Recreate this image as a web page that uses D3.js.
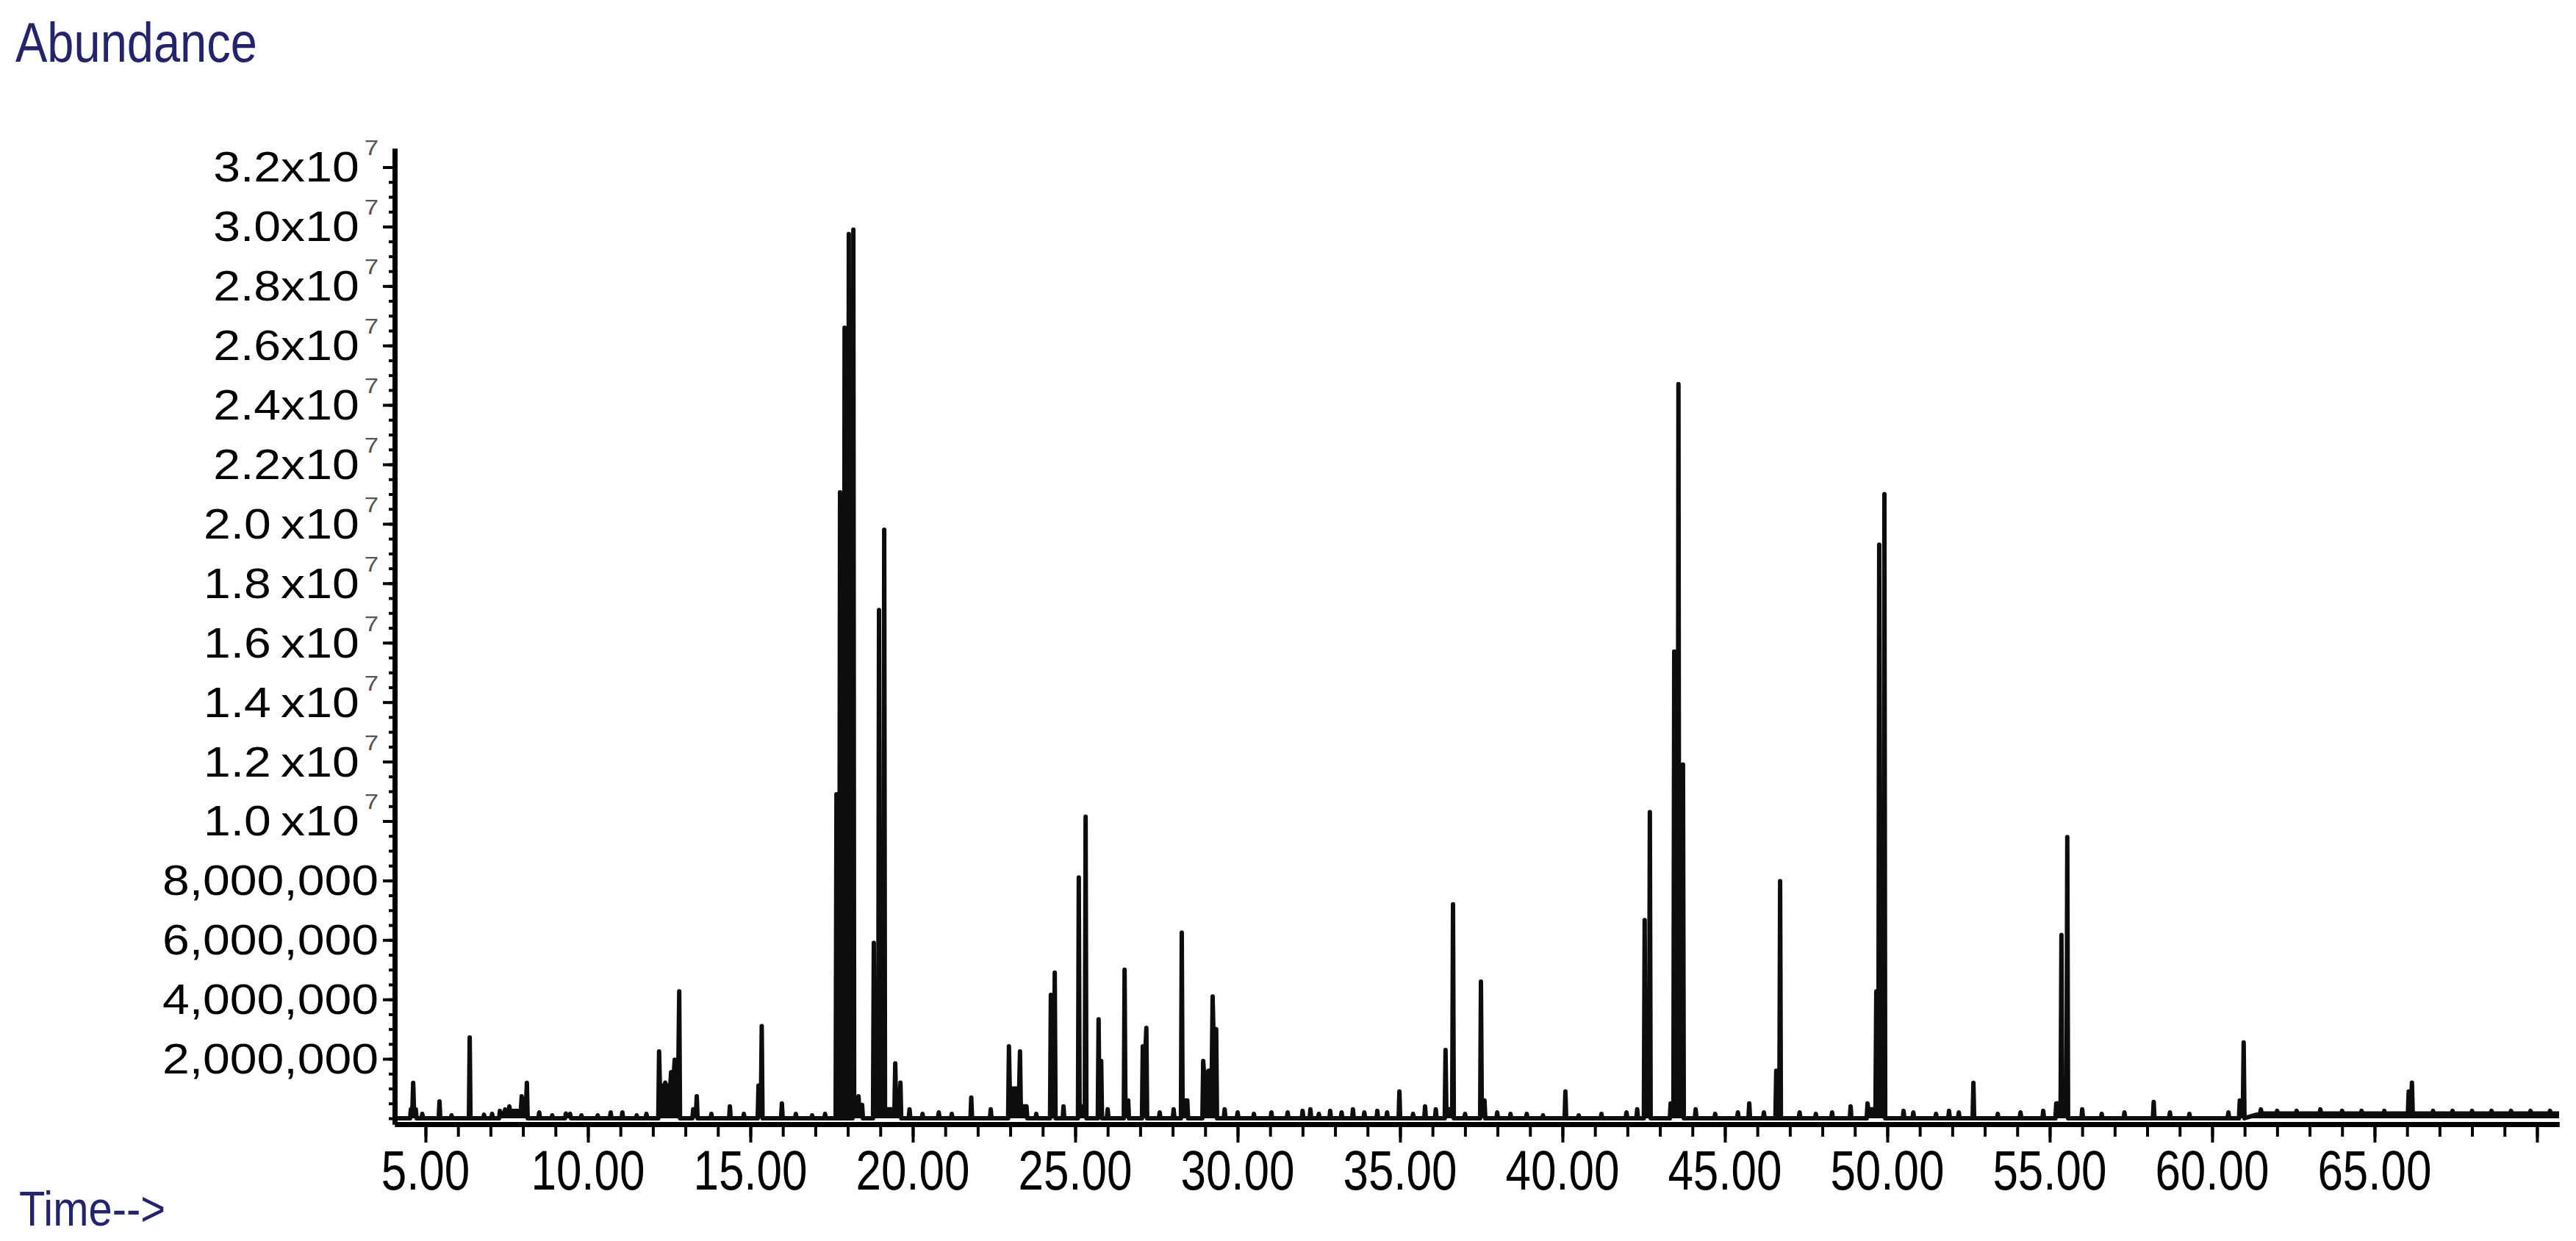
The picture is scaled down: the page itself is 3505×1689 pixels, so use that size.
<!DOCTYPE html>
<html><head><meta charset="utf-8">
<script src="https://cdn.jsdelivr.net/npm/d3@7/dist/d3.min.js"></script>
<style>html,body{margin:0;padding:0;background:#fff;} svg{display:block;}</style>
</head><body>
<svg id="chart" width="3505" height="1689"></svg>
<script>
// ---------- data ----------
const xTickValues = [5, 10, 15, 20, 25, 30, 35, 40, 45, 50, 55, 60, 65];
const xTickLabels = ["5.00","10.00","15.00","20.00","25.00","30.00","35.00","40.00","45.00","50.00","55.00","60.00","65.00"];
const xMajorTicks = [5, 10, 15, 20, 25, 30, 35, 40, 45, 50, 55, 60, 65, 70];

const yTickValues = [2e6, 4e6, 6e6, 8e6, 10e6, 12e6, 14e6, 16e6, 18e6, 20e6, 22e6, 24e6, 26e6, 28e6, 30e6, 32e6];
const yTickLabels = ["2,000,000","4,000,000","6,000,000","8,000,000",
  "1.0\u2009x10","1.2\u2009x10","1.4\u2009x10","1.6\u2009x10","1.8\u2009x10","2.0\u2009x10",
  "2.2x10","2.4x10","2.6x10","2.8x10","3.0x10","3.2x10"];
const yTickExp = ["","","","","7","7","7","7","7","7","7","7","7","7","7","7"];

// retention time (min), apex abundance (x1e6), level the trace stays at after the peak (x1e6)
const peakRT = [4.55,4.62,4.70,4.9,5.43,5.8,6.36,6.8,7.05,7.29,7.45,7.58,7.96,8.12,8.5,8.9,9.32,9.45,9.8,10.3,10.7,11.06,11.5,11.8,
  12.19,12.38,12.56,12.67,12.81,13.24,13.35,13.8,14.37,14.8,15.25,15.35,15.97,16.4,16.9,17.3,
  17.65,17.76,17.9,18.03,18.17,18.33,18.44,18.8,18.96,19.12,19.46,19.62,19.9,20.3,20.8,21.2,21.8,22.4,
  22.96,23.3,23.5,23.8,24.25,24.37,24.64,25.11,25.32,25.72,25.8,26.0,26.52,26.63,27.08,27.19,27.6,28.03,
  28.28,28.45,28.94,29.1,29.23,29.34,29.6,30.0,30.5,31.04,31.54,32.0,32.24,32.5,32.85,33.2,33.55,33.9,34.3,34.6,
  34.98,35.4,35.77,36.1,36.4,36.63,37.0,37.49,37.6,37.99,38.4,38.9,39.4,40.09,40.5,41.2,41.97,42.3,
  42.53,42.69,43.33,43.44,43.57,43.71,44.1,44.7,45.4,45.75,46.2,46.58,46.7,47.3,47.8,48.3,48.87,49.39,
  49.66,49.75,49.91,50.5,50.8,51.5,51.9,52.2,52.65,53.4,54.1,54.8,55.2,55.36,55.54,56.0,56.6,57.3,58.2,58.7,59.3,
  60.5,60.85,60.97,61.5,62.0,62.6,63.33,64.0,64.6,65.3,66.05,66.15,66.8,67.4,68.0,68.6,69.2,69.8,70.4];
const peakTop = [0.3,1.19,0.3,0.15,0.57,0.1,2.72,0.12,0.15,0.25,0.3,0.4,0.74,1.19,0.2,0.1,0.16,0.15,0.1,0.1,0.2,0.2,0.1,0.15,
  2.25,1.2,1.55,1.97,4.27,0.3,0.74,0.15,0.4,0.15,1.1,3.1,0.5,0.15,0.1,0.15,
  10.9,21.06,26.6,29.75,29.9,0.74,0.45,5.9,17.1,19.8,1.85,1.2,0.3,0.15,0.2,0.15,0.7,0.3,
  2.42,2.25,0.4,0.15,4.15,4.9,0.4,8.1,10.15,3.33,1.93,0.3,5.0,0.6,2.42,3.04,0.2,0.3,
  6.25,0.6,1.93,1.6,4.1,3.0,0.3,0.2,0.15,0.2,0.2,0.25,0.3,0.15,0.25,0.2,0.3,0.2,0.25,0.2,
  0.9,0.15,0.4,0.3,2.3,7.2,0.15,4.6,0.6,0.2,0.15,0.15,0.1,0.9,0.1,0.15,0.2,0.3,
  6.67,10.3,0.5,15.7,24.7,11.9,0.3,0.15,0.2,0.5,0.2,1.6,7.98,0.2,0.15,0.2,0.4,0.5,
  4.27,19.3,21.0,0.25,0.2,0.15,0.25,0.2,1.19,0.15,0.2,0.25,0.5,6.17,9.46,0.3,0.15,0.2,0.55,0.2,0.15,
  0.2,0.6,2.55,0.3,0.25,0.25,0.3,0.25,0.25,0.25,0.9,1.2,0.25,0.25,0.25,0.25,0.25,0.25,0.25];
const peakFoot = [0.3,0.3,0,0,0,0,0,0,0,0.15,0.2,0.25,0.5,0,0,0,0.1,0,0,0,0,0,0,0,
  1.1,1.1,1.5,1.9,0,0.2,0,0,0,0,0.6,0,0,0,0,0,
  0,0,0,0,0.3,0.2,0,0.3,0.3,0.3,0.5,0,0,0,0,0,0,0,
  1.0,0.4,0,0,0.5,0,0,0.4,0,0.4,0,0,0.6,0,2.4,0,0,0,
  0.6,0,1.5,1.6,2.9,0,0,0,0,0,0,0,0,0,0,0,0,0,0,0,
  0,0,0,0,0.3,0,0,0.5,0,0,0,0,0,0,0,0,0,0,
  0.3,0,0.5,0.5,0.5,0,0,0,0,0,0,0,0,0,0,0,0,0.3,
  0.4,0.4,0,0,0,0,0,0,0,0,0,0,0.5,0.5,0,0,0,0,0,0,0,
  0,0.3,0,0,0,0,0,0,0,0,0.3,0,0,0,0,0,0,0,0];

// baseline level (x1e6) from each time on (column bleed after ~61 min)
const baselineRT = [4.05, 61.4];
const baselineLevel = [0, 0.16];

// ---------- drawing ----------
const W = 3505, H = 1689;
const svg = d3.select("#chart");
svg.append("rect").attr("width", W).attr("height", H).attr("fill", "#fff");

const x = d3.scaleLinear().domain([4.05, 70.68]).range([537, 3482]);
const y = d3.scaleLinear().domain([-0.198e6, 32.63e6]).range([1530, 202]);

const HW = 0.025; // spike half width in minutes
const baseAt = t => { let v = 0; baselineRT.forEach((bt, i) => { if (t >= bt) v = baselineLevel[i]; }); return v * 1e6; };
const pts = [[x.domain()[0], baseAt(x.domain()[0])]];
peakRT.forEach((rt, i) => {
  const prevFoot = i > 0 ? peakFoot[i - 1] * 1e6 : 0;
  pts.push([rt - HW, Math.max(prevFoot, baseAt(rt - HW))]);
  pts.push([rt, peakTop[i] * 1e6]);
  pts.push([rt + HW, Math.max(peakFoot[i] * 1e6, baseAt(rt + HW))]);
});
pts.push([x.domain()[1], baseAt(x.domain()[1])]);

const INK = "#0d0d0d";
svg.append("path").datum(pts)
  .attr("fill", INK)
  .attr("d", d3.area().x(d => x(d[0])).y0(y(0)).y1(d => y(d[1])));
svg.append("path").datum(pts)
  .attr("fill", "none").attr("stroke", INK).attr("stroke-width", 6)
  .attr("stroke-linejoin", "round")
  .attr("d", d3.line().x(d => x(d[0])).y(d => y(d[1])));

// axes
function styleAxis(g) {
  g.select(".domain").attr("stroke", "#000").attr("stroke-width", 7);
  g.selectAll(".tick line").attr("stroke", "#000").attr("stroke-width", 4);
  g.selectAll(".tick text").remove();
}
const x0 = y.range()[0];
svg.append("g").attr("transform", `translate(0,${x0})`)
  .call(d3.axisBottom(x).tickValues(d3.range(5, 71, 1)).tickSize(17).tickSizeOuter(0).tickFormat(""))
  .call(styleAxis);
svg.append("g").attr("transform", `translate(0,${x0})`)
  .call(d3.axisBottom(x).tickValues(xMajorTicks).tickSize(25).tickSizeOuter(0).tickFormat(""))
  .call(styleAxis);
const y0 = x.range()[0];
svg.append("g").attr("transform", `translate(${y0},0)`)
  .call(d3.axisLeft(y).tickValues(d3.range(0, 32.5e6, 0.5e6)).tickSize(8).tickSizeOuter(0).tickFormat(""))
  .call(styleAxis);
svg.append("g").attr("transform", `translate(${y0},0)`)
  .call(d3.axisLeft(y).tickValues(yTickValues).tickSize(16).tickSizeOuter(0).tickFormat(""))
  .call(styleAxis);

const FONT = "'Liberation Sans', Arial, sans-serif";

// x tick labels
svg.append("g").selectAll("text").data(xTickValues).join("text")
  .attr("transform", d => `translate(${x(d)},1619) scale(1,1.22)`)
  .attr("text-anchor", "middle")
  .attr("fill", "#000")
  .style("font-family", FONT)
  .style("font-size", "62px")
  .text((d, i) => xTickLabels[i]);

// y tick labels
svg.append("g").selectAll("text").data(yTickValues).join("text")
  .attr("transform", d => `translate(${y0 - 22},${y(d) + 20}) scale(1.16,1)`)
  .attr("text-anchor", "end")
  .attr("fill", "#000")
  .style("font-family", FONT)
  .style("font-size", "57px")
  .each(function (d, i) {
    const t = d3.select(this);
    t.append("tspan").text(yTickLabels[i]);
    if (yTickExp[i]) t.append("tspan").attr("dx", 6).attr("dy", -36).attr("fill", "#555").style("font-size", "30px").text(yTickExp[i]);
  });

// axis titles
svg.append("text").attr("transform", "translate(21,84) scale(1,1.18)")
  .attr("fill", "#24246e")
  .style("font-family", FONT).style("font-size", "65px")
  .text("Abundance");
svg.append("text").attr("transform", "translate(26,1668) scale(1,1.15)")
  .attr("fill", "#24246e")
  .style("font-family", FONT).style("font-size", "58px")
  .text("Time-->");
</script>
</body></html>
